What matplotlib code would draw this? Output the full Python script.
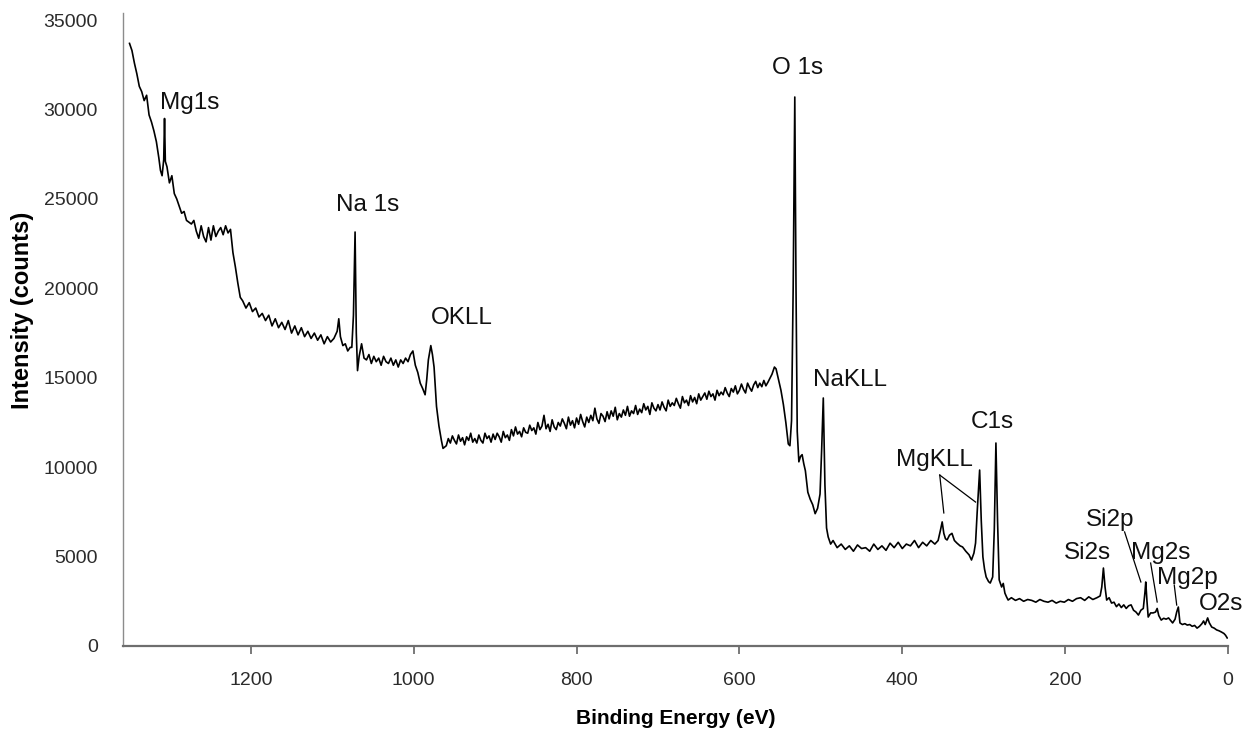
import numpy as np
import matplotlib
matplotlib.use("Agg")
import matplotlib.pyplot as plt

plt.rcParams['font.family'] = ['Liberation Sans', 'DejaVu Sans']

# XPS survey spectrum (binding energy in eV, counts)
be_mg1s = [1349, 1346, 1343, 1340, 1337, 1334, 1331, 1328, 1325, 1322, 1319, 1316,
           1313, 1311, 1309, 1307, 1306, 1305, 1303, 1300, 1297, 1294, 1291, 1288,
           1285, 1282, 1279, 1276, 1273, 1270, 1267, 1264, 1261, 1258, 1255, 1252,
           1249, 1246, 1243, 1240, 1237, 1234, 1231, 1228, 1225]
cts_mg1s = [33700, 33300, 32600, 32000, 31300, 31000, 30500, 30800, 29700, 29300, 28800, 28200,
            27300, 26600, 26300, 27200, 29500, 27100, 26800, 25900, 26300, 25300, 25000, 24600,
            24200, 24300, 23800, 23700, 23600, 23800, 23200, 22800, 23500, 22900, 22600, 23400,
            22700, 23500, 22900, 23200, 23400, 23000, 23500, 23100, 23300]

be_na1s = [1222, 1219, 1216, 1213, 1210, 1206, 1202, 1198, 1194, 1190, 1186, 1182,
           1178, 1174, 1170, 1166, 1162, 1158, 1154, 1150, 1146, 1142, 1138, 1134,
           1130, 1126, 1122, 1118, 1114, 1110, 1106, 1102, 1098, 1094, 1092, 1090,
           1087, 1084, 1081, 1078, 1076, 1074, 1072, 1070.5, 1069]
cts_na1s = [22000, 21200, 20300, 19500, 19300, 18900, 19200, 18700, 18900, 18400, 18600, 18200,
            18500, 17900, 18300, 17800, 18100, 17700, 18200, 17500, 17900, 17400, 17800, 17300,
            17600, 17200, 17500, 17100, 17400, 16900, 17300, 17000, 17200, 17600, 18300, 17300,
            16800, 16900, 16500, 16700, 16700, 18500, 23150, 17500, 15400]

be_okll = [1067, 1064, 1061, 1058, 1055, 1052, 1049, 1046, 1043, 1040, 1037, 1034,
           1031, 1028, 1025, 1022, 1019, 1016, 1013, 1010, 1007, 1004, 1001, 998,
           995, 992, 989, 986, 984, 982, 979, 977, 975, 972, 969, 966, 964]
cts_okll = [16200, 16900, 16100, 16000, 16300, 15800, 16200, 15900, 16100, 15700, 16200, 15900,
            15800, 16100, 15700, 16000, 15600, 16000, 15800, 16100, 15900, 16300, 16500, 15700,
            15300, 14700, 14400, 14050, 14900, 16000, 16800, 16300, 15600, 13400, 12300, 11500, 11050]

# 960 -> 565 eV in 2.5 eV steps
cts_mid = [11200, 11600, 11350, 11750, 11500, 11300, 11800, 11450,
           11650, 11250, 11700, 11500, 11900, 11400, 11600, 11350,
           11800, 11500, 11350, 11900, 11600, 11750, 11400, 11850,
           11550, 11900, 11700, 11400, 12000, 11650, 11800, 11500,
           12100, 11750, 12250, 11850, 12000, 11700, 12200, 11950,
           11900, 12350, 12050, 12200, 11850, 12500, 12100, 12300,
           12900, 12150, 12400, 12000, 12650, 12250, 12100, 12500,
           12300, 12700, 12450, 12150, 12800, 12350, 12600, 12200,
           12750, 12400, 12950, 12550, 12250, 12800, 12500, 12900,
           12600, 13300, 12700, 12450, 13000, 12850, 12550, 13100,
           12700, 13150, 12850, 13350, 12650, 13000, 12800, 13200,
           12900, 13400, 12850, 13150, 13000, 13450, 12950, 13250,
           13050, 13550, 13200, 13400, 12950, 13600, 13300, 13150,
           13500, 13200, 13650, 13350, 13150, 13750, 13400, 13600,
           13450, 13850, 13550, 13300, 13950, 13600, 13750, 13450,
           14000, 13650, 13900, 13550, 14100, 13750, 13950, 14150,
           13800, 14250, 13950, 14100, 13750, 14300, 14000, 14200,
           14050, 14450, 14150, 13950, 14400, 14200, 14550, 14100,
           14300, 14650, 14350, 14150, 14700, 14450, 14250, 14600,
           14800, 14450, 14700, 14500, 14850, 14550, 14750]
be_mid = list(np.linspace(960, 565, len(cts_mid)))

be_o1s = [560, 557, 555, 552, 549, 546, 543, 540, 538, 536, 534, 532, 530.5, 529, 527, 525,
          523, 521, 519, 516, 513, 510, 507, 504, 501, 499, 497, 495, 493, 491, 488, 485]
cts_o1s = [15200, 15600, 15500, 14900, 14300, 13500, 12500, 11300, 11200, 12600, 20000, 30700,
           20000, 12000, 10300, 10600, 10700, 10200, 9800, 8600, 8200, 7900, 7400, 7700,
           8500, 11000, 13870, 9000, 6600, 6100, 5700, 5900]

be_c1s = [480, 475, 470, 465, 460, 455, 450, 445, 440, 435, 430, 425, 420, 415, 410, 405,
          400, 395, 390, 385, 380, 375, 370, 365, 360, 356, 353, 351, 349, 347, 345, 342,
          339, 336, 333, 329, 326, 322, 318, 315, 312, 310, 308, 305, 303, 301, 299, 297,
          294, 292, 289, 287, 285, 283, 281, 278, 276, 274, 272, 270]
cts_c1s = [5500, 5700, 5400, 5600, 5300, 5650, 5450, 5500, 5300, 5700, 5400, 5600, 5350, 5750, 5500, 5800,
           5450, 5700, 5600, 5900, 5500, 5800, 5600, 5900, 5700, 5900, 6500, 6940, 6300, 6000, 5930, 6200,
           6300, 5900, 5760, 5600, 5540, 5300, 5100, 4810, 5200, 5760, 7500, 9840, 7000, 4980, 4300, 3860,
           3600, 3520, 3860, 6500, 11350, 7000, 3700, 3300, 3500, 2960, 2750, 2570]

be_low = [266, 261, 256, 251, 246, 241, 236, 231, 226, 221, 216, 211, 206, 201, 196, 191,
          186, 181, 176, 171, 166, 161, 157, 155, 153, 151, 149, 146, 143, 140, 137, 134,
          131, 128, 125, 122, 119, 116, 113, 110, 107, 104, 102, 101, 99.5, 98, 95, 92,
          89, 87, 85, 82, 79, 76, 73, 70, 68, 65, 63, 61, 59, 56, 53, 50,
          47, 44, 41, 38, 35, 32, 30, 28, 25, 23, 20, 17, 14, 11, 8, 5, 3, 1]
cts_low = [2700, 2550, 2650, 2500, 2600, 2550, 2450, 2600, 2500, 2450, 2550, 2400, 2500, 2450, 2600, 2500,
           2650, 2700, 2550, 2750, 2600, 2700, 2800, 3300, 4360, 3300, 2570, 2700, 2400, 2450, 2200, 2350,
           2150, 2300, 2100, 2250, 2300, 2000, 1900, 1730, 2000, 2100, 3000, 3580, 2500, 1620, 1850, 1850,
           1900, 2100, 1700, 1450, 1550, 1500, 1570, 1400, 1290, 1500, 1900, 2180, 1290, 1200, 1250, 1170,
           1200, 1100, 1150, 1000, 1100, 1250, 1400, 1200, 1570, 1300, 1060, 1000, 900, 850, 780, 700, 600, 450]

# peak labels and their centres
peak_labels = ['Mg1s', 'Na 1s', 'OKLL', 'O 1s', 'NaKLL', 'C1s', 'MgKLL',
               'Si2p', 'Si2s', 'Mg2s', 'Mg2p', 'O2s']
label_be = [1275, 1056, 941, 529, 464, 289, 360, 145, 172, 83, 50, 8]
label_cts = [30370, 24660, 18350, 32330, 14880, 12530, 10400, 7050, 5200, 5200, 3800, 2350]

# leader lines: (be0, be1), (cts0, cts1)
leader_be = [(354, 349), (354, 310), (127, 107), (95, 87), (66, 63)]
leader_cts = [(9560, 7440), (9560, 8050), (6380, 3580), (4640, 2460), (3410, 2290)]

binding_energy = np.array(be_mg1s + be_na1s + be_okll + be_mid + be_o1s + be_c1s + be_low)
intensity = np.array(cts_mg1s + cts_na1s + cts_okll + cts_mid + cts_o1s + cts_c1s + cts_low)

fig = plt.figure(figsize=(12.5, 7.4), dpi=100)
ax = fig.add_axes([123 / 1250, 1 - 646 / 740, 1105 / 1250, 633 / 740])

ax.plot(binding_energy, intensity, color='black', lw=1.2)

for txt, x, y in zip(peak_labels, label_be, label_cts):
    ax.text(x, y, txt, ha='center', va='center', fontsize=17.5, color='#111111')

for xs, ys in zip(leader_be, leader_cts):
    ax.plot(xs, ys, color='black', lw=0.9)

ax.set_xlim(1357, 0)
ax.set_ylim(0, 35400)
ax.set_xticks(range(0, 1201, 200))
ax.set_yticks(range(0, 35001, 5000))

ax.spines['top'].set_visible(False)
ax.spines['right'].set_visible(False)
ax.spines['left'].set_color('#8c8c8c')
ax.spines['left'].set_linewidth(1.0)
ax.spines['bottom'].set_color('#6e6e6e')
ax.spines['bottom'].set_linewidth(1.6)

ax.tick_params(axis='x', direction='out', length=6, width=1.3, color='#6e6e6e',
               pad=13, labelsize=14, labelcolor='#2b2b2b')
ax.tick_params(axis='y', length=0, pad=18, labelsize=14, labelcolor='#2b2b2b')

ax.set_xlabel('Binding Energy (eV)', fontsize=15, fontweight='bold')
ax.xaxis.set_label_coords(0.5, -0.114)
ax.xaxis.label.set_va('center')
ax.set_ylabel('Intensity (counts)', fontsize=17, fontweight='bold')
ax.yaxis.set_label_coords(-0.091, 0.531)
ax.yaxis.label.set_va('center')

fig.savefig('out.png', dpi=100)
